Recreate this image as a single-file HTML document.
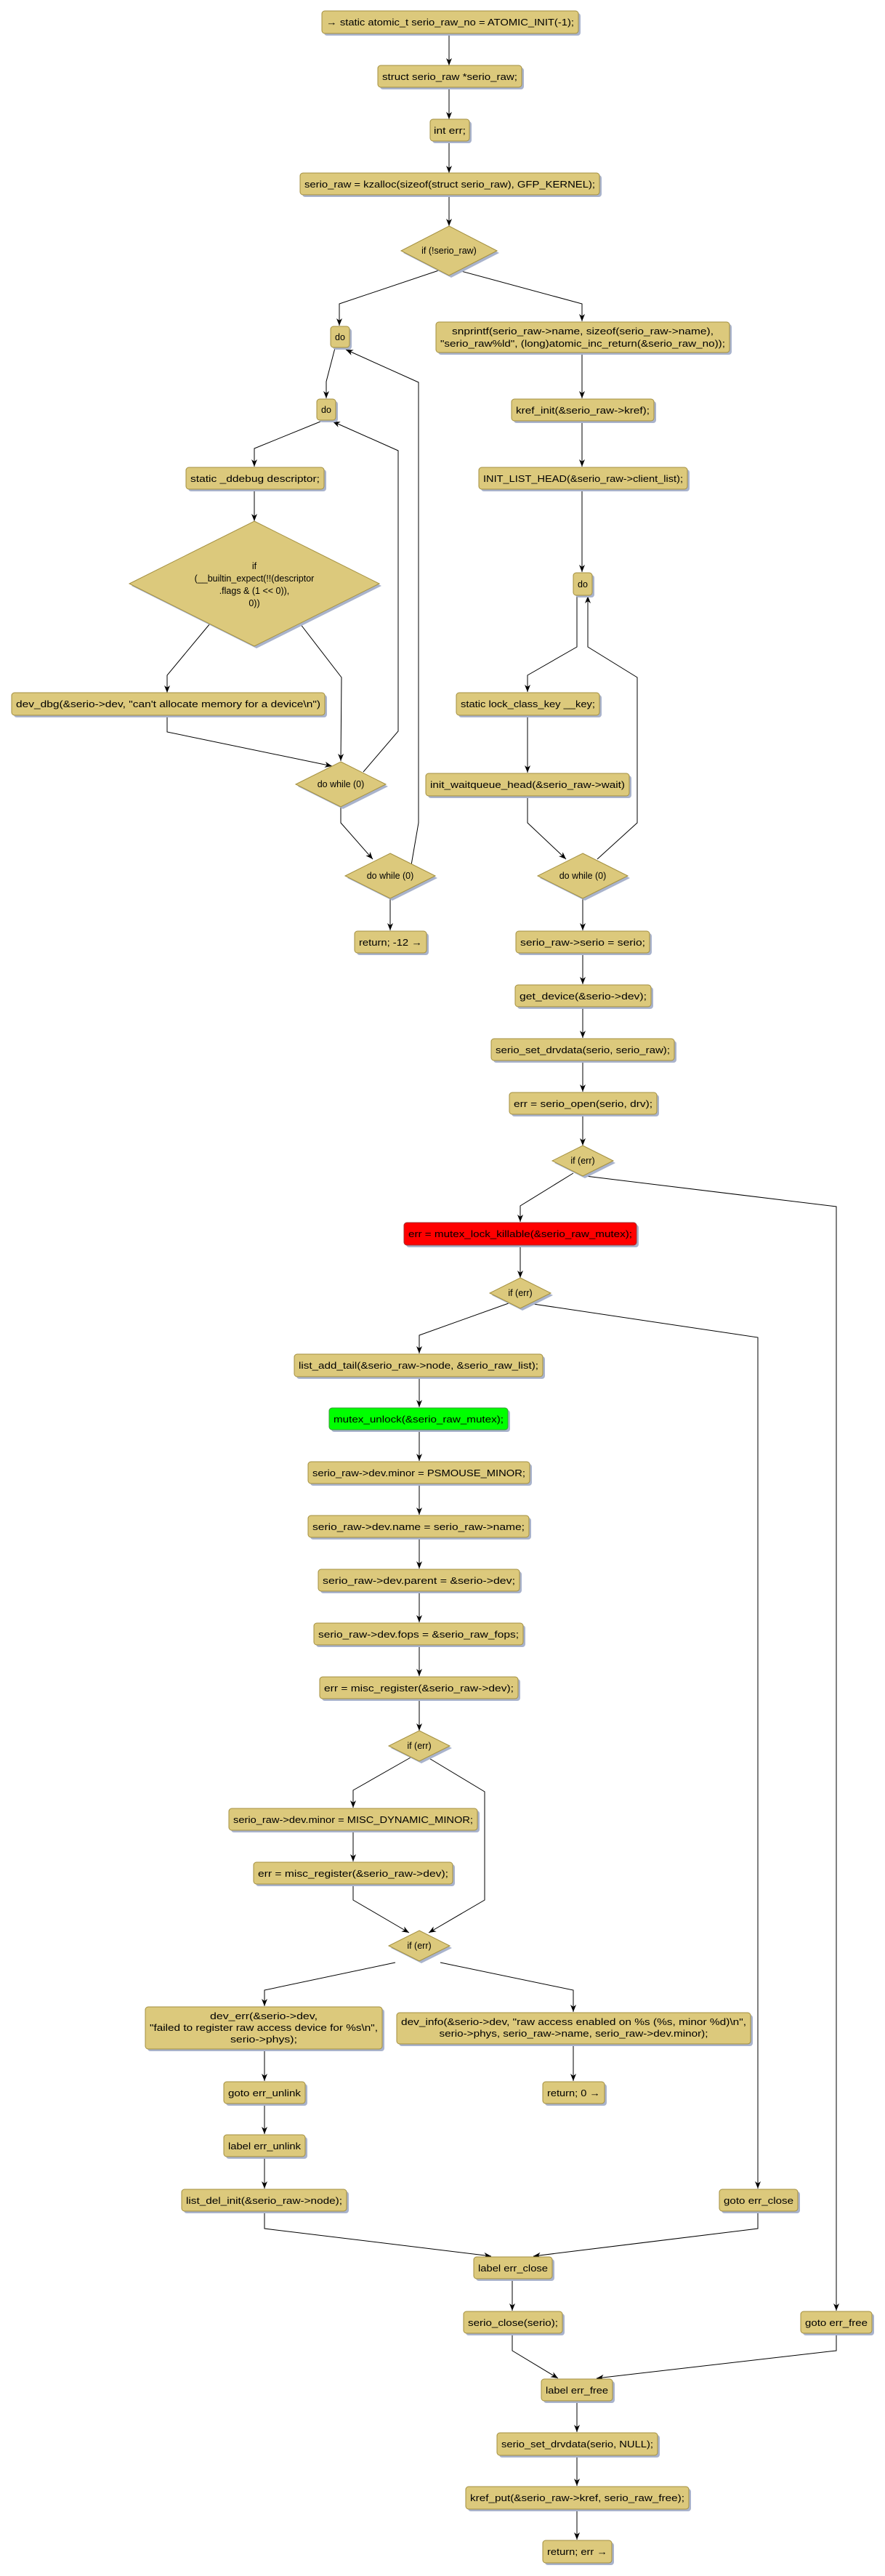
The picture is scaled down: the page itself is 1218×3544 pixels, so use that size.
<!DOCTYPE html>
<html><head><meta charset="utf-8"><style>
html,body{margin:0;padding:0;background:#fff}
svg{display:block}
text{font-family:"Liberation Sans",sans-serif;font-size:12.5px;fill:#000}
.b{fill:#dcc97c;stroke:#a38f3f;stroke-width:1}
.s{fill:#a9b3cc}
.l{fill:none;stroke:#000;stroke-width:1}
</style></head><body>
<svg width="1218" height="3544" viewBox="0 0 1218 3544" xmlns="http://www.w3.org/2000/svg">
<defs><marker id="a" markerUnits="userSpaceOnUse" markerWidth="10" markerHeight="10" refX="10" refY="5" orient="auto"><path d="M0,1 L10,5 L0,9 L3,5 z" fill="#000"/></marker></defs>
<g id="edges" class="l" marker-end="url(#a)">
<polyline points="618,46 618,90"/>
<polyline points="618,120 618,164"/>
<polyline points="618,194 618,238"/>
<polyline points="618,268 618,311"/>
<polyline points="604,372 467,418 467,448"/>
<polyline points="631,372 801,418 801,442"/>
<polyline points="461,479 449,525 449,548"/>
<polyline points="441,580 350,617 350,642"/>
<polyline points="350,673 350,717"/>
<polyline points="289,858 230,929 230,953"/>
<polyline points="413,858 470,932 469,1047"/>
<polyline points="230,984 230,1007 457,1054"/>
<polyline points="500,1062 548,1006 548,620 458,580"/>
<polyline points="469,1110 469,1132 513,1182"/>
<polyline points="566,1190 576,1132 576,526 476,481"/>
<polyline points="537,1236 537,1280"/>
<polyline points="801,485 801,548"/>
<polyline points="801,579 801,642"/>
<polyline points="801,673 801,787"/>
<polyline points="794,819 794,890 726,929 726,952"/>
<polyline points="822,1182 877,1132 877,932 809,890 809,820"/>
<polyline points="726,984 726,1063"/>
<polyline points="726,1095 726,1132 779,1182"/>
<polyline points="802,1236 802,1280"/>
<polyline points="802,1311 802,1354"/>
<polyline points="802,1385 802,1428"/>
<polyline points="802,1459 802,1502"/>
<polyline points="802,1533 802,1576"/>
<polyline points="789,1614 716,1659 716,1681"/>
<polyline points="806,1618 1151,1660 1151,3179"/>
<polyline points="716,1713 716,1758"/>
<polyline points="700,1793 577,1837 577,1862"/>
<polyline points="734,1794 1043,1840 1043,3011"/>
<polyline points="577,1894 577,1936"/>
<polyline points="577,1967 577,2010"/>
<polyline points="577,2041 577,2084"/>
<polyline points="577,2115 577,2158"/>
<polyline points="577,2189 577,2232"/>
<polyline points="577,2263 577,2306"/>
<polyline points="577,2337 577,2381"/>
<polyline points="565,2418 486,2463 486,2487"/>
<polyline points="589,2418 667,2465 667,2614 590,2659"/>
<polyline points="486,2518 486,2561"/>
<polyline points="486,2592 486,2614 563,2659"/>
<polyline points="544,2700 364,2738 364,2760"/>
<polyline points="606,2700 789,2738 789,2768"/>
<polyline points="364,2819 364,2863"/>
<polyline points="789,2812 789,2863"/>
<polyline points="364,2894 364,2936"/>
<polyline points="364,2967 364,3011"/>
<polyline points="364,3042 364,3066 676,3104"/>
<polyline points="1043,3042 1043,3066 734,3104"/>
<polyline points="705,3135 705,3179"/>
<polyline points="705,3210 705,3234 768,3272"/>
<polyline points="1151,3210 1151,3234 821,3272"/>
<polyline points="794,3303 794,3346"/>
<polyline points="794,3378 794,3420"/>
<polyline points="794,3452 794,3494"/>
</g>

<g id="diamonds">
<polygon class="s" points="621,314 687,348 621,382 555,348"/><polygon class="b" points="618,311 684,345 618,379 552,345"/>
<text x="618" y="349" text-anchor="middle">if (!serio_raw)</text>
<polygon class="s" points="353,720 525,806 353,892 181,806"/><polygon class="b" points="350,717 522,803 350,889 178,803"/>
<text x="350" y="783" text-anchor="middle">if</text>
<text x="350" y="800" text-anchor="middle">(__builtin_expect(!!(descriptor</text>
<text x="350" y="817" text-anchor="middle">.flags &amp; (1 &lt;&lt; 0)),</text>
<text x="350" y="834" text-anchor="middle">0))</text>
<polygon class="s" points="472,1051 534,1082 472,1113 410,1082"/><polygon class="b" points="469,1048 531,1079 469,1110 407,1079"/>
<text x="469" y="1083" text-anchor="middle">do while (0)</text>
<polygon class="s" points="540,1177 602,1208 540,1239 478,1208"/><polygon class="b" points="537,1174 599,1205 537,1236 475,1205"/>
<text x="537" y="1209" text-anchor="middle">do while (0)</text>
<polygon class="s" points="805,1177 867,1208 805,1239 743,1208"/><polygon class="b" points="802,1174 864,1205 802,1236 740,1205"/>
<text x="802" y="1209" text-anchor="middle">do while (0)</text>
<polygon class="s" points="805,1579 847,1600 805,1621 763,1600"/><polygon class="b" points="802,1576 844,1597 802,1618 760,1597"/>
<text x="802" y="1601" text-anchor="middle">if (err)</text>
<polygon class="s" points="719,1761 761,1782 719,1803 677,1782"/><polygon class="b" points="716,1758 758,1779 716,1800 674,1779"/>
<text x="716" y="1783" text-anchor="middle">if (err)</text>
<polygon class="s" points="580,2384 622,2405 580,2426 538,2405"/><polygon class="b" points="577,2381 619,2402 577,2423 535,2402"/>
<text x="577" y="2406" text-anchor="middle">if (err)</text>
<polygon class="s" points="580,2659 622,2680 580,2701 538,2680"/><polygon class="b" points="577,2656 619,2677 577,2698 535,2677"/>
<text x="577" y="2681" text-anchor="middle">if (err)</text>
</g>

<g id="boxes">
<rect class="s" x="446" y="18" width="353" height="31" rx="4"/><rect class="b" x="443" y="15" width="353" height="31" rx="4"/>
<text x="619.5" y="35" text-anchor="middle" textLength="341" lengthAdjust="spacingAndGlyphs">→ static atomic_t serio_raw_no = ATOMIC_INIT(-1);</text>
<rect class="s" x="523" y="93" width="198" height="30" rx="4"/><rect class="b" x="520" y="90" width="198" height="30" rx="4"/>
<text x="619" y="110" text-anchor="middle" textLength="186" lengthAdjust="spacingAndGlyphs">struct serio_raw *serio_raw;</text>
<rect class="s" x="595" y="167" width="54" height="30" rx="4"/><rect class="b" x="592" y="164" width="54" height="30" rx="4"/>
<text x="619" y="184" text-anchor="middle" textLength="44" lengthAdjust="spacingAndGlyphs">int err;</text>
<rect class="s" x="416" y="241" width="412" height="30" rx="4"/><rect class="b" x="413" y="238" width="412" height="30" rx="4"/>
<text x="619" y="258" text-anchor="middle" textLength="400" lengthAdjust="spacingAndGlyphs">serio_raw = kzalloc(sizeof(struct serio_raw), GFP_KERNEL);</text>
<rect class="s" x="458" y="452" width="26" height="29" rx="4"/><rect class="b" x="455" y="449" width="26" height="29" rx="4"/>
<text x="468" y="468" text-anchor="middle">do</text>
<rect class="s" x="603" y="446" width="404" height="42" rx="4"/><rect class="b" x="600" y="443" width="404" height="42" rx="4"/>
<text x="802" y="460" text-anchor="middle" textLength="360" lengthAdjust="spacingAndGlyphs">snprintf(serio_raw-&gt;name, sizeof(serio_raw-&gt;name),</text>
<text x="802" y="477" text-anchor="middle" textLength="392" lengthAdjust="spacingAndGlyphs">"serio_raw%ld", (long)atomic_inc_return(&amp;serio_raw_no));</text>
<rect class="s" x="439" y="552" width="26" height="29" rx="4"/><rect class="b" x="436" y="549" width="26" height="29" rx="4"/>
<text x="449" y="568" text-anchor="middle">do</text>
<rect class="s" x="707" y="552" width="196" height="30" rx="4"/><rect class="b" x="704" y="549" width="196" height="30" rx="4"/>
<text x="802" y="569" text-anchor="middle" textLength="184" lengthAdjust="spacingAndGlyphs">kref_init(&amp;serio_raw-&gt;kref);</text>
<rect class="s" x="259" y="646" width="190" height="30" rx="4"/><rect class="b" x="256" y="643" width="190" height="30" rx="4"/>
<text x="351" y="663" text-anchor="middle" textLength="178" lengthAdjust="spacingAndGlyphs">static _ddebug descriptor;</text>
<rect class="s" x="662" y="646" width="287" height="30" rx="4"/><rect class="b" x="659" y="643" width="287" height="30" rx="4"/>
<text x="802.5" y="663" text-anchor="middle" textLength="275" lengthAdjust="spacingAndGlyphs">INIT_LIST_HEAD(&amp;serio_raw-&gt;client_list);</text>
<rect class="s" x="792" y="791" width="26" height="31" rx="4"/><rect class="b" x="789" y="788" width="26" height="31" rx="4"/>
<text x="802" y="808" text-anchor="middle">do</text>
<rect class="s" x="19" y="956" width="431" height="31" rx="4"/><rect class="b" x="16" y="953" width="431" height="31" rx="4"/>
<text x="231.5" y="973" text-anchor="middle" textLength="419" lengthAdjust="spacingAndGlyphs">dev_dbg(&amp;serio-&gt;dev, "can't allocate memory for a device\n")</text>
<rect class="s" x="631" y="956" width="197" height="31" rx="4"/><rect class="b" x="628" y="953" width="197" height="31" rx="4"/>
<text x="726.5" y="973" text-anchor="middle" textLength="185" lengthAdjust="spacingAndGlyphs">static lock_class_key __key;</text>
<rect class="s" x="589" y="1067" width="280" height="31" rx="4"/><rect class="b" x="586" y="1064" width="280" height="31" rx="4"/>
<text x="726" y="1084" text-anchor="middle" textLength="268" lengthAdjust="spacingAndGlyphs">init_waitqueue_head(&amp;serio_raw-&gt;wait)</text>
<rect class="s" x="491" y="1284" width="99" height="30" rx="4"/><rect class="b" x="488" y="1281" width="99" height="30" rx="4"/>
<text x="537.5" y="1301" text-anchor="middle" textLength="87" lengthAdjust="spacingAndGlyphs">return; -12 →</text>
<rect class="s" x="713" y="1284" width="184" height="30" rx="4"/><rect class="b" x="710" y="1281" width="184" height="30" rx="4"/>
<text x="802" y="1301" text-anchor="middle" textLength="172" lengthAdjust="spacingAndGlyphs">serio_raw-&gt;serio = serio;</text>
<rect class="s" x="712" y="1358" width="187" height="30" rx="4"/><rect class="b" x="709" y="1355" width="187" height="30" rx="4"/>
<text x="802.5" y="1375" text-anchor="middle" textLength="175" lengthAdjust="spacingAndGlyphs">get_device(&amp;serio-&gt;dev);</text>
<rect class="s" x="679" y="1432" width="252" height="30" rx="4"/><rect class="b" x="676" y="1429" width="252" height="30" rx="4"/>
<text x="802" y="1449" text-anchor="middle" textLength="240" lengthAdjust="spacingAndGlyphs">serio_set_drvdata(serio, serio_raw);</text>
<rect class="s" x="704" y="1506" width="203" height="30" rx="4"/><rect class="b" x="701" y="1503" width="203" height="30" rx="4"/>
<text x="802.5" y="1523" text-anchor="middle" textLength="191" lengthAdjust="spacingAndGlyphs">err = serio_open(serio, drv);</text>
<rect class="s" x="559" y="1685" width="320" height="31" rx="4"/><rect x="556" y="1682" width="320" height="31" rx="4" fill="#ff0000" stroke="#a03030"/>
<text x="716" y="1702" text-anchor="middle" textLength="308" lengthAdjust="spacingAndGlyphs">err = mutex_lock_killable(&amp;serio_raw_mutex);</text>
<rect class="s" x="408" y="1866" width="342" height="31" rx="4"/><rect class="b" x="405" y="1863" width="342" height="31" rx="4"/>
<text x="576" y="1883" text-anchor="middle" textLength="330" lengthAdjust="spacingAndGlyphs">list_add_tail(&amp;serio_raw-&gt;node, &amp;serio_raw_list);</text>
<rect class="s" x="456" y="1940" width="246" height="30" rx="4"/><rect x="453" y="1937" width="246" height="30" rx="4" fill="#00ff00" stroke="#3a9a3a"/>
<text x="576" y="1957" text-anchor="middle" textLength="234" lengthAdjust="spacingAndGlyphs">mutex_unlock(&amp;serio_raw_mutex);</text>
<rect class="s" x="427" y="2014" width="305" height="30" rx="4"/><rect class="b" x="424" y="2011" width="305" height="30" rx="4"/>
<text x="576.5" y="2031" text-anchor="middle" textLength="293" lengthAdjust="spacingAndGlyphs">serio_raw-&gt;dev.minor = PSMOUSE_MINOR;</text>
<rect class="s" x="427" y="2088" width="304" height="30" rx="4"/><rect class="b" x="424" y="2085" width="304" height="30" rx="4"/>
<text x="576" y="2105" text-anchor="middle" textLength="292" lengthAdjust="spacingAndGlyphs">serio_raw-&gt;dev.name = serio_raw-&gt;name;</text>
<rect class="s" x="441" y="2162" width="277" height="30" rx="4"/><rect class="b" x="438" y="2159" width="277" height="30" rx="4"/>
<text x="576.5" y="2179" text-anchor="middle" textLength="265" lengthAdjust="spacingAndGlyphs">serio_raw-&gt;dev.parent = &amp;serio-&gt;dev;</text>
<rect class="s" x="435" y="2236" width="288" height="30" rx="4"/><rect class="b" x="432" y="2233" width="288" height="30" rx="4"/>
<text x="576" y="2253" text-anchor="middle" textLength="276" lengthAdjust="spacingAndGlyphs">serio_raw-&gt;dev.fops = &amp;serio_raw_fops;</text>
<rect class="s" x="443" y="2310" width="273" height="30" rx="4"/><rect class="b" x="440" y="2307" width="273" height="30" rx="4"/>
<text x="576.5" y="2327" text-anchor="middle" textLength="261" lengthAdjust="spacingAndGlyphs">err = misc_register(&amp;serio_raw-&gt;dev);</text>
<rect class="s" x="318" y="2491" width="342" height="30" rx="4"/><rect class="b" x="315" y="2488" width="342" height="30" rx="4"/>
<text x="486" y="2508" text-anchor="middle" textLength="330" lengthAdjust="spacingAndGlyphs">serio_raw-&gt;dev.minor = MISC_DYNAMIC_MINOR;</text>
<rect class="s" x="352" y="2565" width="274" height="30" rx="4"/><rect class="b" x="349" y="2562" width="274" height="30" rx="4"/>
<text x="486" y="2582" text-anchor="middle" textLength="262" lengthAdjust="spacingAndGlyphs">err = misc_register(&amp;serio_raw-&gt;dev);</text>
<rect class="s" x="203" y="2764" width="326" height="58" rx="4"/><rect class="b" x="200" y="2761" width="326" height="58" rx="4"/>
<text x="363" y="2778" text-anchor="middle" textLength="148" lengthAdjust="spacingAndGlyphs">dev_err(&amp;serio-&gt;dev,</text>
<text x="363" y="2794" text-anchor="middle" textLength="314" lengthAdjust="spacingAndGlyphs">"failed to register raw access device for %s\n",</text>
<text x="363" y="2810" text-anchor="middle" textLength="92" lengthAdjust="spacingAndGlyphs">serio-&gt;phys);</text>
<rect class="s" x="549" y="2772" width="487" height="43" rx="4"/><rect class="b" x="546" y="2769" width="487" height="43" rx="4"/>
<text x="789.5" y="2786" text-anchor="middle" textLength="475" lengthAdjust="spacingAndGlyphs">dev_info(&amp;serio-&gt;dev, "raw access enabled on %s (%s, minor %d)\n",</text>
<text x="789.5" y="2802" text-anchor="middle" textLength="370" lengthAdjust="spacingAndGlyphs">serio-&gt;phys, serio_raw-&gt;name, serio_raw-&gt;dev.minor);</text>
<rect class="s" x="311" y="2867" width="112" height="30" rx="4"/><rect class="b" x="308" y="2864" width="112" height="30" rx="4"/>
<text x="364" y="2884" text-anchor="middle" textLength="100" lengthAdjust="spacingAndGlyphs">goto err_unlink</text>
<rect class="s" x="750" y="2867" width="85" height="30" rx="4"/><rect class="b" x="747" y="2864" width="85" height="30" rx="4"/>
<text x="789.5" y="2884" text-anchor="middle" textLength="73" lengthAdjust="spacingAndGlyphs">return; 0 →</text>
<rect class="s" x="311" y="2940" width="112" height="30" rx="4"/><rect class="b" x="308" y="2937" width="112" height="30" rx="4"/>
<text x="364" y="2957" text-anchor="middle" textLength="100" lengthAdjust="spacingAndGlyphs">label err_unlink</text>
<rect class="s" x="253" y="3015" width="227" height="30" rx="4"/><rect class="b" x="250" y="3012" width="227" height="30" rx="4"/>
<text x="363.5" y="3032" text-anchor="middle" textLength="215" lengthAdjust="spacingAndGlyphs">list_del_init(&amp;serio_raw-&gt;node);</text>
<rect class="s" x="993" y="3015" width="108" height="30" rx="4"/><rect class="b" x="990" y="3012" width="108" height="30" rx="4"/>
<text x="1044" y="3032" text-anchor="middle" textLength="96" lengthAdjust="spacingAndGlyphs">goto err_close</text>
<rect class="s" x="655" y="3108" width="108" height="30" rx="4"/><rect class="b" x="652" y="3105" width="108" height="30" rx="4"/>
<text x="706" y="3125" text-anchor="middle" textLength="96" lengthAdjust="spacingAndGlyphs">label err_close</text>
<rect class="s" x="641" y="3183" width="136" height="30" rx="4"/><rect class="b" x="638" y="3180" width="136" height="30" rx="4"/>
<text x="706" y="3200" text-anchor="middle" textLength="124" lengthAdjust="spacingAndGlyphs">serio_close(serio);</text>
<rect class="s" x="1105" y="3183" width="98" height="30" rx="4"/><rect class="b" x="1102" y="3180" width="98" height="30" rx="4"/>
<text x="1151" y="3200" text-anchor="middle" textLength="86" lengthAdjust="spacingAndGlyphs">goto err_free</text>
<rect class="s" x="748" y="3276" width="98" height="30" rx="4"/><rect class="b" x="745" y="3273" width="98" height="30" rx="4"/>
<text x="794" y="3293" text-anchor="middle" textLength="86" lengthAdjust="spacingAndGlyphs">label err_free</text>
<rect class="s" x="687" y="3350" width="221" height="31" rx="4"/><rect class="b" x="684" y="3347" width="221" height="31" rx="4"/>
<text x="794.5" y="3367" text-anchor="middle" textLength="209" lengthAdjust="spacingAndGlyphs">serio_set_drvdata(serio, NULL);</text>
<rect class="s" x="644" y="3424" width="307" height="31" rx="4"/><rect class="b" x="641" y="3421" width="307" height="31" rx="4"/>
<text x="794.5" y="3441" text-anchor="middle" textLength="295" lengthAdjust="spacingAndGlyphs">kref_put(&amp;serio_raw-&gt;kref, serio_raw_free);</text>
<rect class="s" x="750" y="3498" width="95" height="31" rx="4"/><rect class="b" x="747" y="3495" width="95" height="31" rx="4"/>
<text x="794.5" y="3515" text-anchor="middle" textLength="83" lengthAdjust="spacingAndGlyphs">return; err →</text>
</g>
</svg>
</body></html>
